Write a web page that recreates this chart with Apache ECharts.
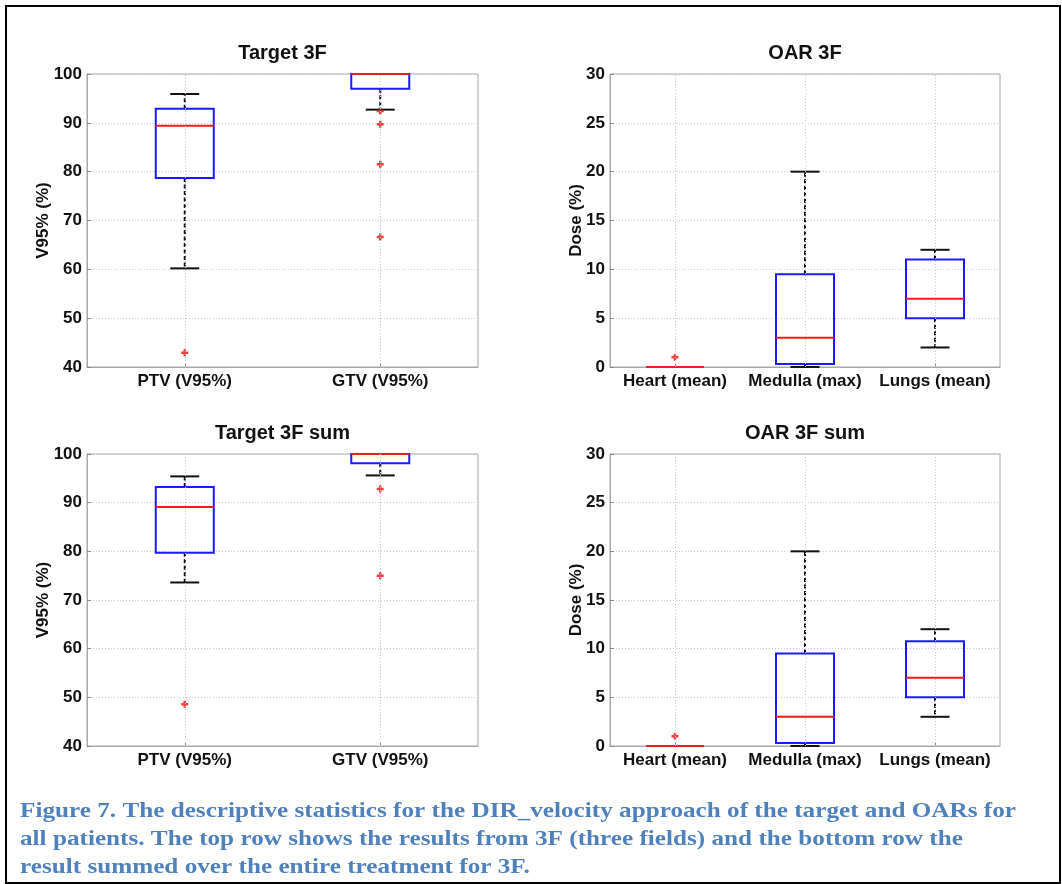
<!DOCTYPE html>
<html>
<head>
<meta charset="utf-8">
<script src="https://cdn.jsdelivr.net/npm/echarts@6/dist/echarts.min.js"></script>
<style>html,body{margin:0;padding:0;background:#fff;}#c{width:1062px;height:884px;}</style>
</head>
<body>
<div id="c"></div>
<script>
// ---------- data ----------
const targetCats = ['PTV (V95%)', 'GTV (V95%)'];
const oarCats = ['Heart (mean)', 'Medulla (max)', 'Lungs (mean)'];
const targetTicks = [40, 50, 60, 70, 80, 90, 100];
const oarTicks = [0, 5, 10, 15, 20, 25, 30];
// each box: [lower whisker, Q1, median, Q3, upper whisker]
const target3F = [[60.2, 78.7, 89.4, 92.9, 95.9], [92.7, 97.0, 100, 100, 100]];
const target3FOutliers = [[0, 42.9], [1, 92.4], [1, 89.7], [1, 81.5], [1, 66.6]];
const oar3F = [[0, 0, 0, 0, 0], [0, 0.3, 3, 9.5, 20], [2, 5, 7, 11, 12]];
const oar3FOutliers = [[0, 1]];
const target3FSum = [[73.6, 79.7, 89.1, 93.2, 95.4], [95.6, 98.1, 100, 100, 100]];
const target3FSumOutliers = [[0, 48.6], [1, 92.8], [1, 75.0]];
const oar3FSum = [[0, 0, 0, 0, 0], [0, 0.3, 3, 9.5, 20], [3, 5, 7, 10.75, 12]];
const oar3FSumOutliers = [[0, 1]];
const titles = ['Target 3F', 'OAR 3F', 'Target 3F sum', 'OAR 3F sum'];
const yNames = ['V95% (%)', 'Dose (%)', 'V95% (%)', 'Dose (%)'];
const captionLines = [
  'Figure 7. The descriptive statistics for the DIR_velocity approach of the target and OARs for',
  'all patients. The top row shows the results from 3F (three fields) and the bottom row the',
  'result summed over the entire treatment for 3F.'
];

// ---------- layout ----------
const FONT = '"Liberation Sans", Arial, sans-serif';
const grids = [
  { left: 87, top: 74, width: 391, height: 293 },
  { left: 610, top: 74, width: 390, height: 293 },
  { left: 87, top: 454, width: 391, height: 292 },
  { left: 610, top: 454, width: 390, height: 292 }
];
const panels = [
  { cats: targetCats, boxes: target3F, outl: target3FOutliers, ticks: targetTicks },
  { cats: oarCats, boxes: oar3F, outl: oar3FOutliers, ticks: oarTicks },
  { cats: targetCats, boxes: target3FSum, outl: target3FSumOutliers, ticks: targetTicks },
  { cats: oarCats, boxes: oar3FSum, outl: oar3FSumOutliers, ticks: oarTicks }
];

function renderBox(params, api) {
  const i = api.value(0);
  const lw = api.coord([i, api.value(1)]);
  const q1 = api.coord([i, api.value(2)]);
  const md = api.coord([i, api.value(3)]);
  const q3 = api.coord([i, api.value(4)]);
  const uw = api.coord([i, api.value(5)]);
  const x = lw[0], bw = 58, cw = 29;
  const dash = { stroke: '#111', lineWidth: 2, lineDash: [4, 2.5], fill: null };
  const solid = (c) => ({ stroke: c, lineWidth: 2, fill: null });
  return {
    type: 'group',
    children: [
      { type: 'line', shape: { x1: x, y1: q3[1], x2: x, y2: uw[1] }, style: dash },
      { type: 'line', shape: { x1: x, y1: q1[1], x2: x, y2: lw[1] }, style: dash },
      { type: 'line', shape: { x1: x - cw / 2, y1: uw[1], x2: x + cw / 2, y2: uw[1] }, style: solid('#111') },
      { type: 'line', shape: { x1: x - cw / 2, y1: lw[1], x2: x + cw / 2, y2: lw[1] }, style: solid('#111') },
      { type: 'rect', shape: { x: x - bw / 2, y: q3[1], width: bw, height: q1[1] - q3[1] }, style: solid('#1a1aff') },
      { type: 'line', shape: { x1: x - bw / 2, y1: md[1], x2: x + bw / 2, y2: md[1] }, style: solid('#ee1c1c') }
    ]
  };
}

// caption: horizontal scale fitted to the reference line width
const CAP_FONT = 'bold 22px "Liberation Serif", serif';
const cv = document.createElement('canvas').getContext('2d');
cv.font = CAP_FONT;
const capScale = 996 / cv.measureText(captionLines[0]).width;

const option = {
  backgroundColor: '#fff',
  animation: false,
  grid: grids.map(g => Object.assign({ show: true, borderColor: '#a8a8a8', borderWidth: 1, containLabel: false }, g)),
  xAxis: panels.map((p, k) => ({
    type: 'category', gridIndex: k, data: p.cats, boundaryGap: true,
    axisLine: { lineStyle: { color: '#a8a8a8' } },
    axisTick: { show: true, inside: true, alignWithLabel: true, length: 4, lineStyle: { color: '#888' } },
    axisLabel: { color: '#111', fontWeight: 'bold', fontSize: 17, fontFamily: FONT, margin: 6, interval: 0, hideOverlap: false },
    splitLine: { show: false }
  })),
  yAxis: panels.map((p, k) => ({
    type: 'value', gridIndex: k, min: p.ticks[0], max: p.ticks[p.ticks.length - 1],
    interval: p.ticks[1] - p.ticks[0],
    axisLine: { show: true, lineStyle: { color: '#a8a8a8' } },
    axisTick: { show: true, inside: true, length: 4, lineStyle: { color: '#888' } },
    axisLabel: { color: '#111', fontWeight: 'bold', fontSize: 17, fontFamily: FONT, margin: 5 },
    splitLine: { show: true, lineStyle: { color: '#c8c8c8', type: [1, 2], width: 1 } }
  })),
  series: [],
  graphic: []
};

panels.forEach((p, k) => {
  option.series.push({
    type: 'custom', xAxisIndex: k, yAxisIndex: k, renderItem: renderBox, z: 3,
    encode: { x: 0, y: [1, 2, 3, 4, 5] },
    data: p.boxes.map((b, i) => [i].concat(b)), clip: false
  });
  option.series.push({
    type: 'scatter', xAxisIndex: k, yAxisIndex: k, z: 4,
    symbol: 'path://M3.2,0H6.8V3.2H10V6.8H6.8V10H3.2V6.8H0V3.2H3.2Z', symbolSize: 7,
    itemStyle: { color: '#f01010' },
    data: p.outl.map(o => [o[0], o[1]]),
    markLine: {
      silent: true, symbol: 'none', label: { show: false }, animation: false,
      lineStyle: { color: '#c8c8c8', type: [1, 2], width: 1 },
      data: p.cats.map(c => ({ xAxis: c }))
    }
  });
  const g = grids[k];
  option.graphic.push({
    type: 'text', x: g.left + g.width / 2, y: g.top - 21,
    style: { text: titles[k], font: 'bold 20px ' + FONT, fill: '#111', align: 'center', verticalAlign: 'middle' }
  });
  option.graphic.push({
    type: 'text', x: g.left - (k % 2 === 0 ? 44 : 34), y: g.top + g.height / 2, rotation: Math.PI / 2,
    style: { text: yNames[k], font: 'bold 17px ' + FONT, fill: '#111', align: 'center', verticalAlign: 'middle' }
  });
});

option.graphic.push({
  type: 'rect', shape: { x: 6, y: 6, width: 1054, height: 877 },
  style: { fill: null, stroke: '#000', lineWidth: 2 }, z: 100
});
const capY = [811, 839, 867];
captionLines.forEach((t, i) => {
  option.graphic.push({
    type: 'text', x: 20, y: capY[i], scaleX: capScale,
    style: { text: t, font: CAP_FONT, fill: '#4f81bd', align: 'left', verticalAlign: 'middle' }
  });
});

const chart = echarts.init(document.getElementById('c'), null, { renderer: 'canvas' });
chart.setOption(option);
</script>
</body>
</html>
